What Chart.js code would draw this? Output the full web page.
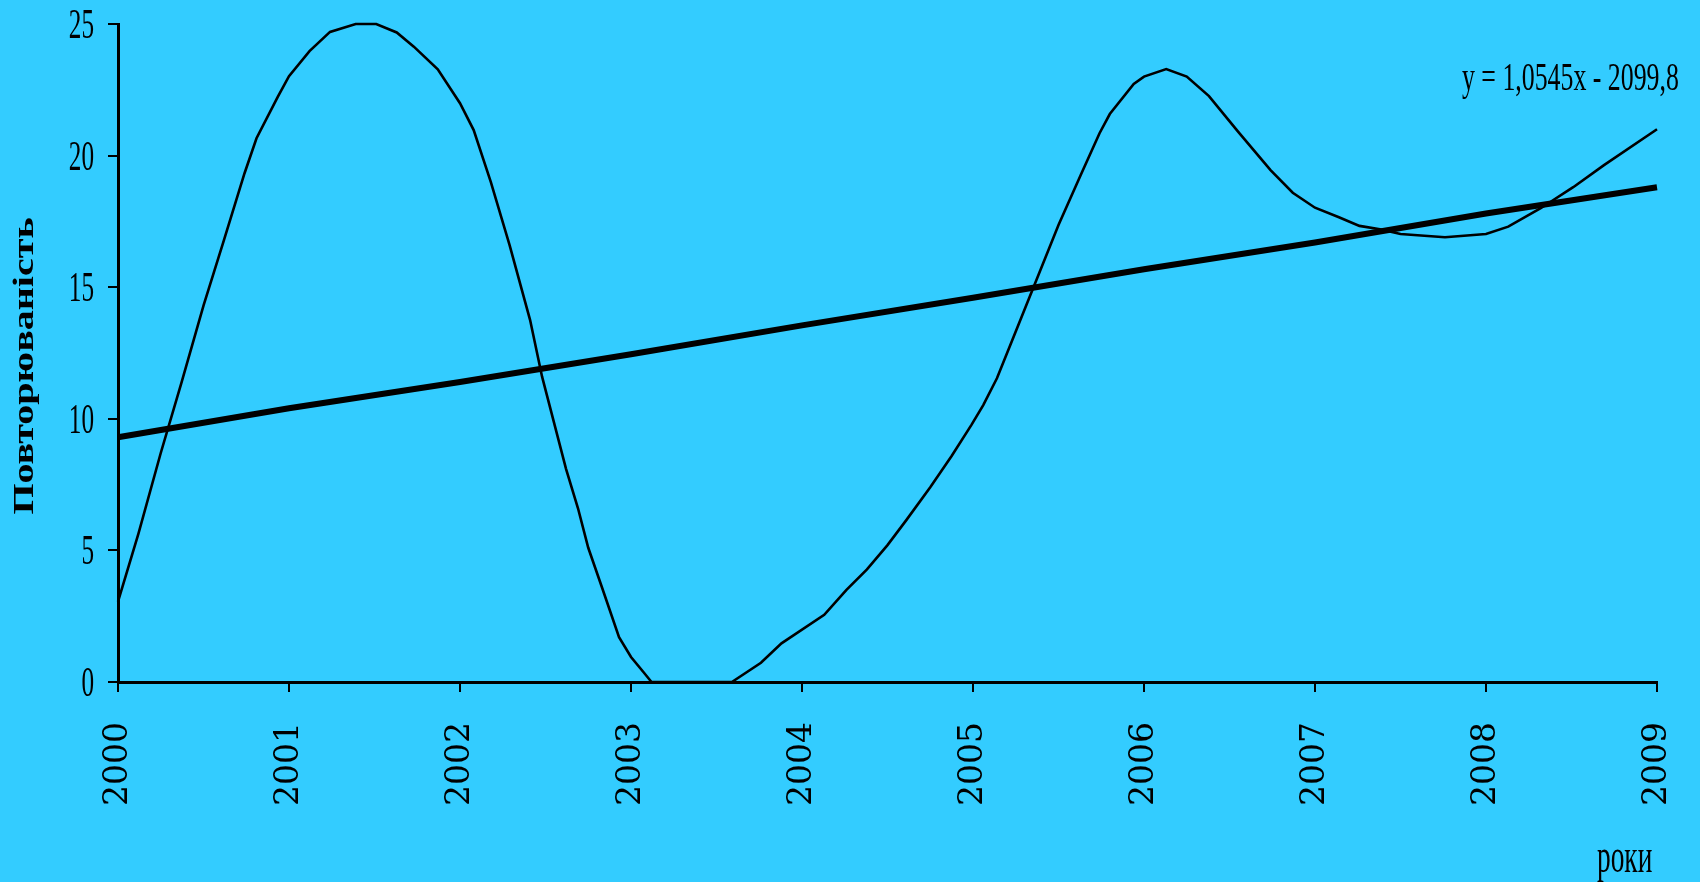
<!DOCTYPE html>
<html>
<head>
<meta charset="utf-8">
<script src="https://cdn.jsdelivr.net/npm/chart.js@4/dist/chart.umd.min.js"></script>
<style>
  html, body { margin: 0; padding: 0; background: #33ccff; }
  #wrap { width: 1700px; height: 882px; position: relative; }
</style>
</head>
<body>
<div id="wrap"><canvas id="chart"></canvas></div>
<script>
// curve (year, value)
const years = [
    2000.00, 2000.12, 2000.25, 2000.37, 2000.50, 2000.62, 2000.74, 2000.81, 2000.935,
    2001.00, 2001.12, 2001.24, 2001.39, 2001.51, 2001.63, 2001.73, 2001.87,
    2002.00, 2002.08, 2002.18, 2002.29, 2002.41, 2002.48, 2002.62, 2002.69, 2002.75, 2002.83, 2002.93,
    2003.00, 2003.07, 2003.12, 2003.59, 2003.76, 2003.88,
    2004.13, 2004.26, 2004.38, 2004.50, 2004.61, 2004.75, 2004.875, 2004.99,
    2005.06, 2005.14, 2005.23, 2005.50, 2005.63, 2005.74, 2005.80, 2005.94,
    2006.00, 2006.13, 2006.25, 2006.38, 2006.55, 2006.74, 2006.87,
    2007.00, 2007.14, 2007.26, 2007.38, 2007.50, 2007.76,
    2008.00, 2008.13, 2008.32, 2008.51, 2008.69, 2009.00
];
const values = [
    3.05, 5.65, 8.7, 11.35, 14.3, 16.8, 19.33, 20.66, 22.24,
    23.02, 23.97, 24.7, 25.0, 25.0, 24.68, 24.14, 23.28,
    21.99, 20.97, 19.0, 16.6, 13.75, 11.6, 8.1, 6.6, 5.1, 3.6, 1.7,
    0.95, 0.4, 0, 0, 0.73, 1.47,
    2.55, 3.5, 4.28, 5.2, 6.15, 7.4, 8.59, 9.76,
    10.52, 11.54, 12.99, 17.36, 19.26, 20.85, 21.58, 22.72,
    23.0, 23.29, 23.0, 22.26, 20.91, 19.45, 18.59,
    18.02, 17.66, 17.33, 17.2, 17.02, 16.9,
    17.02, 17.3, 18.0, 18.8, 19.64, 21.0
];

// trend line, read at each year
const trendYears = [2000, 2001, 2002, 2003, 2004, 2005, 2006, 2007, 2008, 2009];
const trendValues = [9.3, 10.4, 11.4, 12.45, 13.55, 14.6, 15.68, 16.7, 17.8, 18.8];

const yTickLabels = [0, 5, 10, 15, 20, 25];
const yTitle = 'Повторюваність';
const xTitle = 'роки';
const equation = 'y = 1,0545x - 2099,8';

// text in the original is squeezed sideways, so it is drawn here by hand
const textPlugin = {
    id: 'texts',
    afterDraw(chart) {
        let ctx = chart.ctx;
        let ys = chart.scales.y;
        ctx.save();
        ctx.fillStyle = '#000';

        ctx.font = '42px "Liberation Serif"';
        ctx.textAlign = 'right';
        ctx.textBaseline = 'alphabetic';
        yTickLabels.forEach(function(v) {
            let py = ys.getPixelForValue(v);
            ctx.save();
            ctx.translate(94, py + 14);
            ctx.scale(0.6, 1);
            ctx.fillText(String(v), 0, 0);
            ctx.restore();
        });

        ctx.save();
        ctx.translate(33, 366);
        ctx.rotate(-Math.PI / 2);
        ctx.scale(1.38, 1);
        ctx.font = 'bold 29px "Liberation Serif"';
        ctx.textAlign = 'center';
        ctx.fillText(yTitle, 0, 0);
        ctx.restore();

        ctx.save();
        ctx.translate(1462, 90);
        ctx.scale(0.63, 1);
        ctx.font = '41px "Liberation Serif"';
        ctx.textAlign = 'left';
        ctx.fillText(equation, 0, 0);
        ctx.restore();

        ctx.save();
        ctx.translate(1597, 872);
        ctx.scale(0.57, 1);
        ctx.font = '48px "Liberation Serif"';
        ctx.textAlign = 'left';
        ctx.fillText(xTitle, 0, 0);
        ctx.restore();

        ctx.restore();
    }
};

let ctx = document.getElementById('chart').getContext('2d');
new Chart(ctx, {
    type: 'line',
    data: {
        datasets: [
            {
                data: years.map((x, i) => ({x: x, y: values[i]})),
                borderColor: '#000',
                borderWidth: 2.6,
                pointRadius: 0,
                fill: false,
                tension: 0,
                clip: false
            },
            {
                data: trendYears.map((x, i) => ({x: x, y: trendValues[i]})),
                borderColor: '#000',
                borderWidth: 6,
                pointRadius: 0,
                fill: false,
                tension: 0,
                clip: false
            }
        ]
    },
    plugins: [textPlugin],
    options: {
        responsive: true,
        maintainAspectRatio: false,
        animation: false,
        layout: { padding: { left: 0, top: 24, right: 43, bottom: 0 } },
        plugins: {
            legend: { display: false },
            tooltip: { enabled: false }
        },
        scales: {
            x: {
                type: 'linear',
                min: 2000,
                max: 2009,
                afterFit: function(s) {
                    s.height = 200;
                    s.paddingLeft = 0;
                    s.paddingRight = 0;
                },
                border: { display: true, color: '#000', width: 3 },
                grid: { drawOnChartArea: false, drawTicks: true, tickLength: 10, color: '#000', lineWidth: 2 },
                ticks: {
                    stepSize: 1,
                    callback: v => String(v),
                    minRotation: 90,
                    maxRotation: 90,
                    padding: 30,
                    color: '#000',
                    font: { family: '"DejaVu Serif"', size: 33 }
                }
            },
            y: {
                min: 0,
                max: 25,
                afterFit: function(s) {
                    s.width = 118;
                    s.paddingTop = 0;
                    s.paddingBottom = 0;
                },
                border: { display: true, color: '#000', width: 3 },
                grid: { drawOnChartArea: false, drawTicks: true, tickLength: 10, color: '#000', lineWidth: 2 },
                ticks: { stepSize: 5, display: false }
            }
        }
    }
});
</script>
</body>
</html>
